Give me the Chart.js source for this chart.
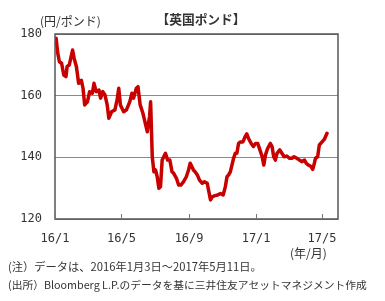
<!DOCTYPE html>
<html>
<head>
<meta charset="utf-8">
<script src="https://cdn.jsdelivr.net/npm/chart.js@4/dist/chart.umd.min.js"></script>
<style>
  html, body { margin: 0; padding: 0; background: #fff; }
  canvas { display: block; }
</style>
</head>
<body>
<canvas id="myChart" width="385" height="301"></canvas>
<script>
// days since 2016/1/1 and GBP/JPY close
var days = [2, 5, 8, 12, 16, 20, 22, 26, 32, 35, 39, 43, 48, 51, 54, 59, 63, 68, 71, 75,
  80, 83, 87, 91, 95, 98, 103, 109, 113, 116, 119, 125, 130, 136, 140, 143, 148, 151, 155, 160,
  165, 168, 172, 174, 177, 180, 183, 186, 189, 192, 195, 198, 201, 205, 209, 213, 216, 221, 225, 229,
  234, 239, 243, 246, 249, 252, 255, 259, 263, 268, 272, 277, 280, 283, 286, 290, 296, 301, 306, 310,
  313, 316, 319, 322, 325, 328, 331, 334, 337, 342, 346, 349, 352, 357, 361, 365, 369, 372, 377, 380,
  383, 387, 392, 395, 398, 401, 404, 409, 413, 417, 422, 427, 431, 435, 440, 445, 449, 454, 457, 461,
  466, 469, 472, 474, 478, 481, 486, 490, 495];
var gbpjpy = [178.6, 173.8, 171, 170.5, 166.7, 166.2, 169.4, 170, 174.8, 172, 169.4, 164, 165, 162.4, 157, 158, 161.3, 160.8, 164, 161.3,
  161.8, 159.2, 161.3, 160.2, 157, 152.7, 154.8, 155.4, 158.6, 162.4, 157, 154.8, 155.4, 158, 160.8, 159.2, 162.4, 162.9, 157, 154.3,
  150.5, 148.3, 153.2, 158, 140.2, 135.3, 135.9, 133.7, 130, 130.5, 139.1, 140.2, 141.3, 139.1, 139.1, 135.3, 134.8, 133.2, 131, 131,
  132.1, 133.7, 135.9, 138.1, 137, 135.9, 135.3, 134.3, 132.6, 131.6, 132.1, 131.6, 128.9, 126.2, 127.2, 127.5, 127.8, 128.3, 127.8, 130.5,
  133.7, 134.3, 135.3, 137.5, 139.7, 141.3, 141.3, 144.5, 145, 145, 146.7, 147.6, 146.2, 144.5, 143.5, 144.5, 144.5, 142.9, 140.2, 137.5,
  140.8, 142.9, 144.5, 143.5, 140.2, 139.1, 141.3, 142.4, 141.3, 140.2, 140.4, 139.7, 139.7, 140.2, 139.7, 139.1, 138.6, 139.1, 138.1, 137.5,
  137, 136.1, 138.1, 139.7, 140.2, 144, 145, 145.8, 147.8];

var tickDays = [0, 121, 244, 366, 486];
var tickLabels = ['16/1', '16/5', '16/9', '17/1', '17/5'];
var yTicks = [120, 140, 160, 180];

var jpFont = '"Noto Sans CJK JP", "Noto Sans", sans-serif';
var numFont = '"DejaVu Sans Mono", monospace';

// shrink font until the text fits the width it has in the picture
function fitText(ctx, text, x, y, maxW, size, weight) {
  var s = size;
  do {
    ctx.font = (weight || '') + ' ' + s + 'px ' + jpFont;
    s -= 0.25;
  } while (ctx.measureText(text).width > maxW && s > 6);
  ctx.fillText(text, x, y);
}

// frame, inner ticks and texts
var decor = {
  id: 'decor',
  afterDatasetsDraw: function (chart) {
    var ctx = chart.ctx, a = chart.chartArea, xs = chart.scales.x;
    ctx.save();
    ctx.strokeStyle = '#555';
    ctx.lineWidth = 1.5;
    ctx.strokeRect(a.left, a.top, a.right - a.left, a.bottom - a.top);
    ctx.lineWidth = 1;
    ctx.strokeStyle = '#777';
    tickDays.forEach(function (d) {
      var px = Math.round(xs.getPixelForValue(d)) + 0.5;
      ctx.beginPath();
      ctx.moveTo(px, a.bottom);
      ctx.lineTo(px, a.bottom - 5);
      ctx.stroke();
    });
    ctx.restore();
  },
  afterDraw: function (chart) {
    var ctx = chart.ctx;
    ctx.save();
    ctx.fillStyle = '#333';
    ctx.textBaseline = 'middle';
    ctx.textAlign = 'center';
    fitText(ctx, '【英国ポンド】', 201, 19, 90, 13.5, 'bold');
    ctx.textAlign = 'left';
    fitText(ctx, '(円/ポンド)', 40, 21, 63, 12);
    fitText(ctx, '(年/月)', 290, 253, 47, 12);
    fitText(ctx, '(注）データは、2016年1月3日～2017年5月11日。', 8, 267, 254, 12);
    fitText(ctx, '(出所）Bloomberg L.P.のデータを基に三井住友アセットマネジメント作成', 8, 285, 360, 12);
    ctx.restore();
  }
};

var ctx = document.getElementById('myChart').getContext('2d');
var chart = new Chart(ctx, {
  type: 'line',
  data: {
    datasets: [{
      data: days.map(function (d, i) { return { x: d, y: gbpjpy[i] }; }),
      borderColor: '#c80000',
      borderWidth: 3.5,
      pointRadius: 0,
      tension: 0,
      borderJoinStyle: 'round',
      borderCapStyle: 'round'
    }]
  },
  options: {
    responsive: false,
    animation: false,
    layout: { padding: { left: 0, right: 47, top: 34, bottom: 0 } },
    plugins: { legend: { display: false }, tooltip: { enabled: false } },
    scales: {
      x: {
        type: 'linear',
        min: 0,
        max: 515,
        afterBuildTicks: function (s) { s.ticks = tickDays.map(function (v) { return { value: v }; }); },
        afterFit: function (s) { s.height = 82; },
        grid: { display: false },
        border: { display: false },
        ticks: {
          autoSkip: false,
          maxRotation: 0,
          padding: 5,
          color: '#333',
          font: { family: numFont, size: 12 },
          callback: function (v) { return tickLabels[tickDays.indexOf(v)]; }
        }
      },
      y: {
        min: 120,
        max: 180,
        afterBuildTicks: function (s) { s.ticks = yTicks.map(function (v) { return { value: v }; }); },
        afterFit: function (s) { s.width = 55; },
        grid: { color: '#8a8a8a', lineWidth: 1, drawTicks: false },
        border: { display: false },
        ticks: {
          padding: 13,
          color: '#333',
          font: { family: numFont, size: 12 }
        }
      }
    }
  },
  plugins: [decor]
});
</script>
</body>
</html>
